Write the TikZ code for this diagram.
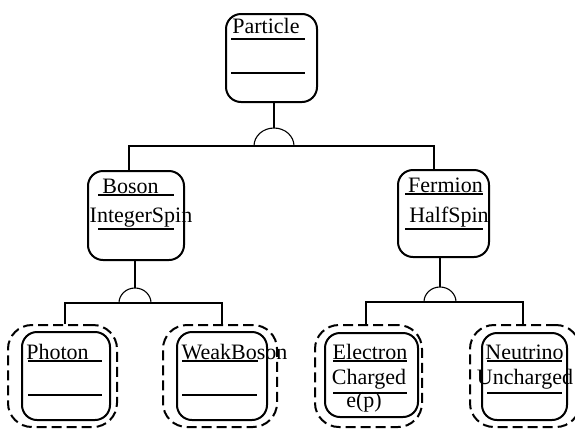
\documentclass[tikz,border=0pt]{standalone}
\usepackage{fontspec}
\setmainfont{Liberation Serif}
\begin{document}
\begin{tikzpicture}[x=1pt,y=-1pt,
  cls/.style={draw, line width=2pt, rounded corners=15pt, inner sep=0pt},
  outer/.style={draw, dash pattern=on 10pt off 5pt, line width=2pt, rounded corners=24pt, inner sep=0pt},
  lbl/.style={font=\fontsize{22}{24}\selectfont, inner sep=0pt, anchor=base},
  ul/.style={line width=2pt},
  conn/.style={line width=1.1pt},
  junc/.style={line width=1.1pt}]
\useasboundingbox (0,0) rectangle (575,429);

% Particle
\node[cls, minimum width=91pt, minimum height=88pt] (particle) at (271.5,58) {};
\node[lbl] (particleName) at (266,33) {Particle};
\draw[ul] (231,39) -- (305,39);
\draw[ul] (231,73) -- (305,73);

% Boson
\node[cls, minimum width=96pt, minimum height=89pt] (boson) at (136,215.5) {};
\node[lbl] (bosonName) at (130.5,193) {Boson};
\node[lbl] (bosonAttr) at (141,222) {IntegerSpin};
\draw[ul] (98,195) -- (174,195);
\draw[ul] (98,229) -- (174,229);

% Fermion
\node[cls, minimum width=91pt, minimum height=87pt] (fermion) at (443.5,213.5) {};
\node[lbl] (fermionName) at (445.5,192) {Fermion};
\node[lbl] (fermionAttr) at (449,222) {HalfSpin};
\draw[ul] (405,194) -- (483,194);
\draw[ul] (405,229) -- (483,229);

% Photon
\node[outer, minimum width=109pt, minimum height=102pt] (photonOuter) at (62.5,376) {};
\node[cls, minimum width=88pt, minimum height=88pt] (photon) at (66,376) {};
\node[lbl] (photonName) at (57.5,359) {Photon};
\draw[ul] (28,361) -- (102,361);
\draw[ul] (28,395) -- (102,395);

% WeakBoson
\node[outer, minimum width=114pt, minimum height=102pt] (weakOuter) at (220,376) {};
\node[cls, minimum width=90pt, minimum height=88pt] (weak) at (222,376) {};
\node[lbl] (weakName) at (234.5,359) {WeakBoson};
\draw[ul] (182,361) -- (258,361);
\draw[ul] (182,395) -- (257,395);

% Electron
\node[outer, minimum width=107pt, minimum height=102pt] (electronOuter) at (368.5,376) {};
\node[cls, minimum width=93pt, minimum height=84pt] (electron) at (371.5,375) {};
\node[lbl] (electronName) at (370,359) {Electron};
\node[lbl] (electronAttr) at (369,384) {Charged};
\node[lbl] (electronOp) at (364,407) {e(p)};
\draw[ul] (333,361) -- (407,361);
\draw[ul] (333,393) -- (407,393);

% Neutrino
\node[outer, minimum width=110pt, minimum height=102pt] (neutrinoOuter) at (525,376) {};
\node[cls, minimum width=85pt, minimum height=87pt] (neutrino) at (524.5,376.5) {};
\node[lbl] (neutrinoName) at (524.5,359) {Neutrino};
\node[lbl] (neutrinoAttr) at (525,384) {Uncharged};
\draw[ul] (487,361) -- (562,361);
\draw[ul] (487,393) -- (562,393);

% Top generalization
\coordinate (j0) at (274,146);
\draw[junc] ([xshift=-20pt]j0) arc[start angle=180,end angle=0,x radius=20pt,y radius=18pt];
\draw[conn] (j0 |- particle.south) -- ([yshift=18pt]j0);
\coordinate (b0l) at (129,146);
\coordinate (b0r) at (434,146);
\draw[conn] (b0l |- boson.north) -- (b0l) -- (b0r) -- (b0r |- fermion.north);

% Boson generalization
\coordinate (j1) at (135,303);
\draw[junc] ([xshift=-16pt]j1) arc[start angle=180,end angle=0,x radius=16pt,y radius=15pt];
\draw[conn] (j1 |- boson.south) -- ([yshift=15pt]j1);
\coordinate (b1l) at (65,303);
\coordinate (b1r) at (222,303);
\draw[conn] (b1l |- photonOuter.north) -- (b1l) -- (b1r) -- (b1r |- weakOuter.north);

% Fermion generalization
\coordinate (j2) at (440,302);
\draw[junc] ([xshift=-16pt]j2) arc[start angle=180,end angle=0,x radius=16pt,y radius=15pt];
\draw[conn] (j2 |- fermion.south) -- ([yshift=15pt]j2);
\coordinate (b2l) at (366,302);
\coordinate (b2r) at (523,302);
\draw[conn] (b2l |- electronOuter.north) -- (b2l) -- (b2r) -- (b2r |- neutrinoOuter.north);
\end{tikzpicture}
\end{document}
